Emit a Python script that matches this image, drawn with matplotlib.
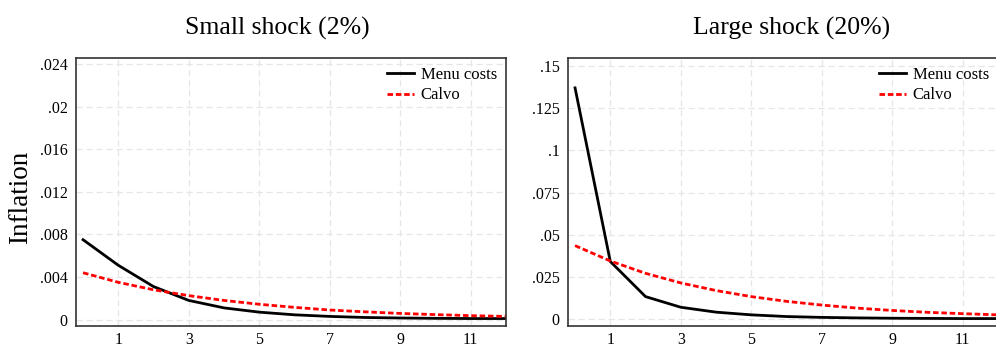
import matplotlib
matplotlib.use("Agg")
import matplotlib.pyplot as plt

periods = list(range(13))
small_menu = [0.0075, 0.0051, 0.0031, 0.0018, 0.0011, 0.0007, 0.00045, 0.0003, 0.0002, 0.00015, 0.00012, 0.0001, 0.0001]
small_calvo = [0.0044, 0.0035, 0.0028, 0.00225, 0.0018, 0.00144, 0.00115, 0.0009, 0.00073, 0.00058, 0.00047, 0.00037, 0.0003]
large_menu = [0.137, 0.0342, 0.0134, 0.0071, 0.0042, 0.0026, 0.0016, 0.0011, 0.0008, 0.0006, 0.0005, 0.0004, 0.0004]
large_calvo = [0.0436, 0.0345, 0.0272, 0.0215, 0.017, 0.0134, 0.0106, 0.0084, 0.0066, 0.0052, 0.0041, 0.0033, 0.0026]

small_yticks = [0, 0.004, 0.008, 0.012, 0.016, 0.02, 0.024]
small_ylabels = ["0", ".004", ".008", ".012", ".016", ".02", ".024"]
large_yticks = [0, 0.025, 0.05, 0.075, 0.1, 0.125, 0.15]
large_ylabels = ["0", ".025", ".05", ".075", ".1", ".125", ".15"]
xticks = [1, 3, 5, 7, 9, 11]

titles = ["Small shock (2%)", "Large shock (20%)"]

plt.rcParams['font.family'] = ['Liberation Serif', 'DejaVu Serif']

W, H = 996, 348
fig = plt.figure(figsize=(W / 100, H / 100), dpi=100)

def make_ax(x0, x1, y0, y1):
    return fig.add_axes([x0 / W, 1 - y1 / H, (x1 - x0) / W, (y1 - y0) / H])

ax1 = make_ax(76, 506, 58, 326)
ax2 = make_ax(568, 998, 58, 326)

panels = [
    (ax1, small_menu, small_calvo, small_yticks, small_ylabels, (-0.0006, 0.02456), 277.5),
    (ax2, large_menu, large_calvo, large_yticks, large_ylabels, (-0.004, 0.1547), 791.5),
]

for i, (ax, menu, calvo, yt, yl, ylim, tx) in enumerate(panels):
    ax.plot(periods, menu, color="black", lw=2, label="Menu costs")
    ax.plot(periods, calvo, color="red", lw=2, ls=(0, (2, 1)), label="Calvo")
    ax.set_xlim(-0.2, 12)
    ax.set_ylim(*ylim)
    ax.set_xticks(xticks)
    ax.set_xticklabels([str(x) for x in xticks], fontsize=11.5)
    ax.set_yticks(yt)
    ax.set_yticklabels(yl, fontsize=11.5)
    ax.tick_params(axis="y", length=0, pad=6)
    ax.tick_params(axis="x", length=0, pad=4)
    ax.grid(True, color="#e6e6e6", ls=(0, (5, 3)), lw=0.9)
    ax.set_axisbelow(True)
    for s in ax.spines.values():
        s.set_color("#333333")
        s.set_linewidth(1.2)
    fig.text(tx / W, 1 - 35 / H, titles[i], fontsize=18.5, ha="center", va="baseline")
    ax.legend(loc="upper right", frameon=False, fontsize=12, handlelength=1.6,
              handletextpad=0.4, labelspacing=0.25, borderaxespad=0.15)

fig.text(21 / W, 1 - 197 / H, "Inflation", fontsize=19.5, rotation=90,
         ha="center", va="center")

fig.savefig("out.png", dpi=100)
